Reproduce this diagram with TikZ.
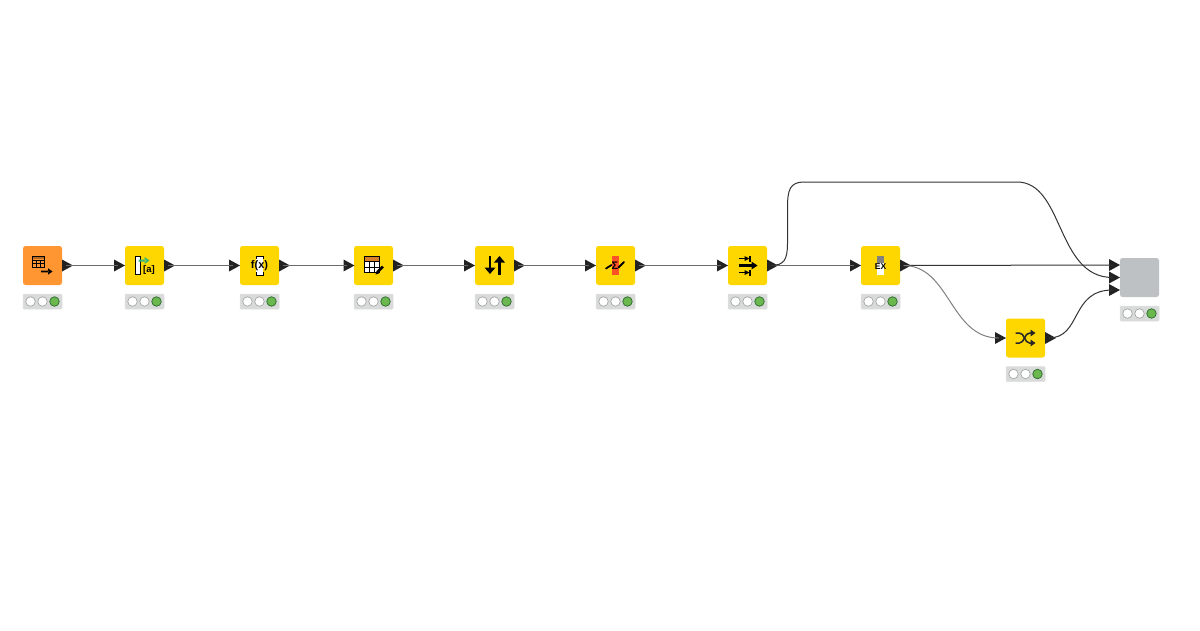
\documentclass[tikz,border=0pt]{standalone}
\usepackage{fontspec}
\setmainfont{Liberation Sans}
\usetikzlibrary{shapes.geometric,arrows.meta}
\definecolor{kyellow}{HTML}{FFD700}
\definecolor{korange}{HTML}{FF9632}
\definecolor{kgrey}{HTML}{BEC1C3}
\definecolor{kbar}{HTML}{D9DBDB}
\definecolor{kgreen}{HTML}{6BB84F}
\definecolor{kink}{HTML}{222222}
\tikzset{
  nodebox/.style={rounded corners=2.5pt,minimum width=39pt,minimum height=39pt,inner sep=0pt,draw=none},
  statusbar/.style={rounded corners=1pt,minimum width=39pt,minimum height=15pt,inner sep=0pt,fill=kbar,draw=black!12,line width=.5pt},
  lamp/.style={circle,minimum size=9.5pt,inner sep=0pt,fill=white,draw=black!35,line width=.7pt},
  lampon/.style={lamp,fill=kgreen,draw=green!30!black!80,line width=.8pt},
  porttip/.style={isosceles triangle,isosceles triangle stretches,shape border rotate=0,minimum width=12pt,minimum height=11pt,inner sep=0pt,outer sep=0pt,fill=kink,draw=none,anchor=west},
  wire/.style={line width=1pt,draw=black!58},
  wirelight/.style={line width=1pt,draw=black!50},
  wiredark/.style={line width=1pt,draw=black!80},
  icontext/.style={inner sep=0pt,font=\bfseries\fontsize{8.5}{9}\selectfont,text=black},
}
\newcommand{\knode}[4]{%
  \node[nodebox,fill=#4] (#1) at (#2,#3) {};
  \node[statusbar] (#1-bar) at (#2,#3+36) {};
  \node[lamp] (#1-l1) at (#2-12,#3+36) {};
  \node[lamp] (#1-l2) at (#2,#3+36) {};
  \node[lampon] (#1-l3) at (#2+12,#3+36) {};
}
\newcommand{\kin}[3]{\node[porttip] (#1-in) at (#2-11,#3) {};}
\newcommand{\kout}[3]{\node[porttip] (#1-out) at (#2+19.5,#3) {};}
\begin{document}
\begin{tikzpicture}[x=1pt,y=-1pt]
\useasboundingbox[fill=white] (0,0) rectangle (1200,630);

\knode{n1}{42.5}{265.5}{korange}
\knode{n2}{144.5}{265.5}{kyellow}
\knode{n3}{259.5}{265.5}{kyellow}
\knode{n4}{373.5}{265.5}{kyellow}
\knode{n5}{494.5}{265.5}{kyellow}
\knode{n6}{615.5}{265.5}{kyellow}
\knode{n7}{747.5}{265.5}{kyellow}
\knode{n8}{880.5}{265.5}{kyellow}
\knode{n9}{1025.5}{338}{kyellow}
\knode{n10}{1139.5}{277.5}{kgrey}

\kout{n1}{42.5}{265.5}
\kin{n2}{125}{265.5}\kout{n2}{144.5}{265.5}
\kin{n3}{240}{265.5}\kout{n3}{259.5}{265.5}
\kin{n4}{354.5}{265.5}\kout{n4}{373.5}{265.5}
\kin{n5}{475}{265.5}\kout{n5}{494.5}{265.5}
\kin{n6}{596}{265.5}\kout{n6}{615.5}{265.5}
\kin{n7}{728}{265.5}\kout{n7}{747.5}{265.5}
\kin{n8}{861}{265.5}\kout{n8}{880.5}{265.5}
\kin{n9}{1006}{338}\kout{n9}{1025.5}{338}
\node[porttip] (n10-a) at (1109,265) {};
\node[porttip] (n10-b) at (1109,277.5) {};
\node[porttip] (n10-c) at (1109,290) {};

\draw[wire] (n1-out.center) -- (n2-in.center);
\draw[wire] (n2-out.center) -- (n3-in.center);
\draw[wire] (n3-out.center) -- (n4-in.center);
\draw[wire] (n4-out.center) -- (n5-in.center);
\draw[wire] (n5-out.center) -- (n6-in.center);
\draw[wire] (n6-out.center) -- (n7-in.center);
\draw[wire] (n7-out.center) -- (n8-in.center);
\draw[wiredark] (n8-out.center) -- (n10-a.center);
\draw[wirelight] (n8-out.center) .. controls (950,265.5) and (950,338) .. (n9-in.center);
\draw[wiredark] (n9-out.center) .. controls (1082,338) and (1070,290) .. (n10-c.center);
\draw[wiredark] (n7-out.center) .. controls (784,265.5) and (787.5,260) .. (787.5,243) -- (787.5,207)
  .. controls (787.5,190) and (790,182) .. (804,182) -- (1017,182)
  .. controls (1064,182) and (1056,277.5) .. (n10-b.center);

% icon 1: table with arrow
\begin{scope}[shift={(n1.center)}]
  \fill[korange!70!black] (-10,-10) rectangle (2,-6.5);
  \draw[line width=.9pt,black] (-10,-9) rectangle (2,2);
  \draw[line width=.5pt,black] (-10,-5.5) -- (2,-5.5) (-10,-2) -- (2,-2) (-6,-5.5) -- (-6,2) (-2,-5.5) -- (-2,2);
  \fill[black] (-1.5,5.2) rectangle (6,6.8) (5.5,2.8) -- (10,6) -- (5.5,9.2) -- cycle;
\end{scope}
% icon 2: column rename
\begin{scope}[shift={(n2.center)}]
  \filldraw[draw=black,fill=white,line width=1pt] (-9,-9) rectangle (-4,9);
  \fill[teal!70!green!80] (-6,-6) rectangle (1,-4) (0,-8.5) -- (5,-5) -- (0,-1.5) -- cycle;
  \node[icontext,font=\bfseries\fontsize{9.5}{10}\selectfont] (n2-t) at (4.5,4.5) {[a]};
\end{scope}
% icon 3: f(x)
\begin{scope}[shift={(n3.center)}]
  \fill[white] (-3.5,-9) rectangle (3.5,9.5);
  \draw[line width=1pt,black] (-3.5,-6.5) -- (-3.5,-9.2) -- (3.5,-9.2) -- (3.5,-6.5) (-3.5,6.5) -- (-3.5,9.5) -- (3.5,9.5) -- (3.5,6.5);
  \node[icontext,font=\bfseries\fontsize{11}{12}\selectfont] (n3-t) at (0,0) {f(x)};
\end{scope}
% icon 4: table with pencil
\begin{scope}[shift={(n4.center)}]
  \fill[white] (-9,-9) rectangle (6,7);
  \fill[korange!85!black] (-9,-9) rectangle (6,-4);
  \draw[line width=.9pt,black] (-9,-9) rectangle (6,7);
  \draw[line width=.5pt,black] (-9,-4) -- (6,-4) (-9,1.5) -- (6,1.5) (-4,-4) -- (-4,7) (1,-4) -- (1,7);
  \draw[line width=2.6pt,black] (9.5,1) -- (4,6.5);
  \fill[black] (5.5,8) -- (2,9) -- (3,5.5) -- cycle;
\end{scope}
% icon 5: sorter arrows
\begin{scope}[shift={(n5.center)}]
  \draw[line width=2.6pt,black] (-4.5,-10) -- (-4.5,4) (5,9.5) -- (5,-4);
  \fill[black] (-10,2) -- (1,2) -- (-4.5,8.5) -- cycle (-.5,-3) -- (10.5,-3) -- (5,-9.5) -- cycle;
\end{scope}
% icon 6: sigma on a slash
\begin{scope}[shift={(n6.center)}]
  \fill[red!60!orange!85] (-4,-9.5) rectangle (3,9.5);
  \draw[line width=1.8pt,black,line cap=round] (-9.5,3) -- (-4,-.5) (3,2) -- (8.5,-3.5);
  \node[icontext,font=\bfseries\fontsize{11}{12}\selectfont] (n6-t) at (-.5,0) {Σ};
\end{scope}
% icon 7: three arrows with stops
\begin{scope}[shift={(n7.center)}]
  \draw[line width=1.4pt,black] (-9,-7) -- (-1,-7) (-9,7) -- (-1,7);
  \draw[line width=1.4pt,black] (2.5,-10) -- (2.5,-4) (2.5,4) -- (2.5,10);
  \fill[black] (-3,-9.5) -- (2,-7) -- (-3,-4.5) -- cycle (-3,4.5) -- (2,7) -- (-3,9.5) -- cycle;
  \draw[line width=2.4pt,black] (-9,0) -- (5,0);
  \fill[black] (4,-4) -- (10,0) -- (4,4) -- cycle;
\end{scope}
% icon 8: bottle with EX
\begin{scope}[shift={(n8.center)}]
  \fill[white] (-3.7,-3) rectangle (3.7,9.5);
  \fill[black!50] (-3.7,-9.5) rectangle (3.7,-2.5);
  \node[icontext] (n8-t) at (0,1) {EX};
\end{scope}
% icon 9: shuffle
\begin{scope}[shift={(n9.center)}]
  \draw[line width=1.5pt,black!85] (-10,-5) -- (-6,-5) .. controls (-1,-5) and (-1,5) .. (4,5) -- (7,5);
  \draw[line width=1.5pt,black!85] (-10,5) -- (-6,5) .. controls (-1,5) and (-1,-5) .. (4,-5) -- (7,-5);
  \fill[black!85] (5,-8.5) -- (10,-5) -- (5,-1.5) -- cycle (5,1.5) -- (10,5) -- (5,8.5) -- cycle;
\end{scope}
\end{tikzpicture}
\end{document}
